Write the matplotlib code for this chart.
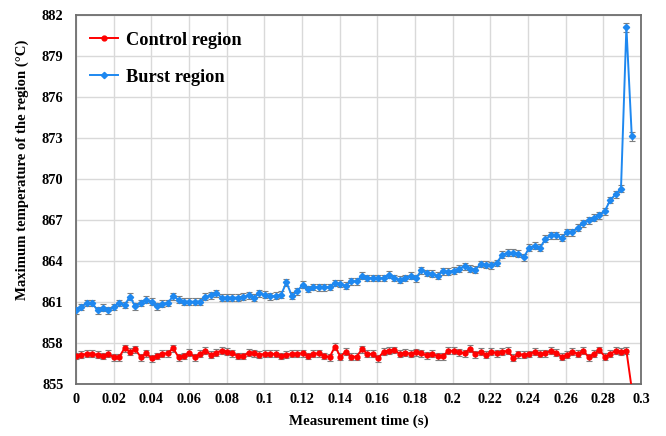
import matplotlib
matplotlib.use("Agg")
import matplotlib.pyplot as plt
import numpy as np

dt = 0.002865
burst = [860.35, 860.6, 860.9, 860.9, 860.35, 860.55, 860.35, 860.6, 860.9, 860.75,
         861.35, 860.65, 860.9, 861.15, 861.0, 860.65, 860.85, 860.9, 861.4, 861.15,
         861.0, 861.0, 861.0, 861.0, 861.35, 861.45, 861.6, 861.3, 861.3, 861.3,
         861.3, 861.35, 861.45, 861.3, 861.6, 861.5, 861.38, 861.42, 861.5, 862.41,
         861.42, 861.75, 862.24, 861.92, 862.07, 862.05, 862.05, 862.07, 862.37, 862.3,
         862.17, 862.49, 862.49, 862.9, 862.73, 862.73, 862.73, 862.73, 862.98, 862.73,
         862.6, 862.73, 862.9, 862.7, 863.3, 863.1, 863.05, 862.9, 863.22, 863.2,
         863.27, 863.42, 863.59, 863.42, 863.34, 863.76, 863.71, 863.66, 863.83, 864.45,
         864.57, 864.57, 864.5, 864.25, 864.95, 865.1, 864.94, 865.6, 865.85, 865.85,
         865.67, 866.09, 866.09, 866.41, 866.73, 866.97, 867.15, 867.32, 867.63, 868.44,
         868.86, 869.28, 881.1, 873.1]
control = [857.02, 857.1, 857.17, 857.17, 857.1, 857.02, 857.17, 856.93, 856.93, 857.59,
           857.34, 857.51, 856.93, 857.22, 856.85, 857.02, 857.17, 857.22, 857.59, 856.93,
           857.02, 857.27, 856.93, 857.17, 857.41, 857.1, 857.27, 857.41, 857.34, 857.22,
           857.02, 857.02, 857.27, 857.22, 857.1, 857.17, 857.17, 857.17, 857.02, 857.1,
           857.17, 857.17, 857.22, 857.02, 857.17, 857.22, 857.02, 856.93, 857.71, 856.97,
           857.34, 856.97, 856.97, 857.51, 857.17, 857.17, 856.85, 857.34, 857.41, 857.46,
           857.17, 857.27, 857.17, 857.3, 857.2, 857.07, 857.18, 857.0, 856.99, 857.4,
           857.39, 857.29, 857.22, 857.54, 857.15, 857.34, 857.1, 857.34, 857.22, 857.34,
           857.39, 856.9, 857.15, 857.1, 857.16, 857.34, 857.17, 857.22, 857.41, 857.27,
           856.97, 857.1, 857.34, 857.17, 857.41, 856.93, 857.17, 857.46, 856.97, 857.17,
           857.41, 857.34, 857.41, 854.6]
burst_err = [0.25] * (len(burst) - 2) + [0.35, 0.3]
control_err = [0.25] * len(control)

t_burst = np.arange(len(burst)) * dt
t_control = np.arange(len(control)) * dt

xticks = [0, 0.02, 0.04, 0.06, 0.08, 0.1, 0.12, 0.14, 0.16, 0.18, 0.2, 0.22, 0.24, 0.26, 0.28, 0.3]
xticklabels = ["0", "0.02", "0.04", "0.06", "0.08", "0.1", "0.12", "0.14", "0.16", "0.18",
               "0.2", "0.22", "0.24", "0.26", "0.28", "0.3"]
yticks = [855, 858, 861, 864, 867, 870, 873, 876, 879, 882]

plt.rcParams['font.family'] = ['Liberation Serif', 'DejaVu Serif']
plt.rcParams['font.weight'] = 'bold'

fig = plt.figure(figsize=(6.66, 4.36), dpi=100)
ax = fig.add_axes([0.1141, 0.1204, 0.8484, 0.8452])

err_kw = dict(fmt='none', ecolor='#7f7f7f', elinewidth=0.8, capsize=2.2, capthick=0.8)
ax.errorbar(t_control, control, yerr=control_err, zorder=2.5, **err_kw)
ax.errorbar(t_burst, burst, yerr=burst_err, zorder=3.5, **err_kw)
ax.plot(t_control, control, color='#ff0000', marker='o', markersize=3.5,
        linewidth=1.4, label='Control region', zorder=3)
ax.plot(t_burst, burst, color='#1e88f0', marker='D', markersize=3.2,
        linewidth=1.4, label='Burst region', zorder=4)

ax.set_xlim(0, 0.3)
ax.set_ylim(855, 882)
ax.set_xticks(xticks)
ax.set_xticklabels(xticklabels)
ax.set_yticks(yticks)
ax.tick_params(axis='y', length=0, labelsize=10.3, pad=9)
ax.tick_params(axis='x', length=0, labelsize=10.3, pad=7)
for lab in ax.get_xticklabels() + ax.get_yticklabels():
    lab.set_fontweight('bold')
ax.grid(True, color='#d9d9d9', linewidth=1.0)
ax.set_axisbelow(True)
for s in ax.spines.values():
    s.set_color('#6e6e6e')
    s.set_linewidth(1.3)

ax.set_xlabel('Measurement time (s)', fontsize=10.8, fontweight='bold', labelpad=6)
ax.set_ylabel('Maximum temperature of the region (\u00b0C)', fontsize=10.6, fontweight='bold')
ax.yaxis.set_label_coords(-0.083, 0.58)

leg = ax.legend(loc='upper left', bbox_to_anchor=(0.012, 0.975), borderaxespad=0,
                frameon=False, handlelength=1.53, handletextpad=0.44, labelspacing=1.1,
                prop={'weight': 'bold', 'size': 13.2})

fig.savefig('out.png', dpi=100)
